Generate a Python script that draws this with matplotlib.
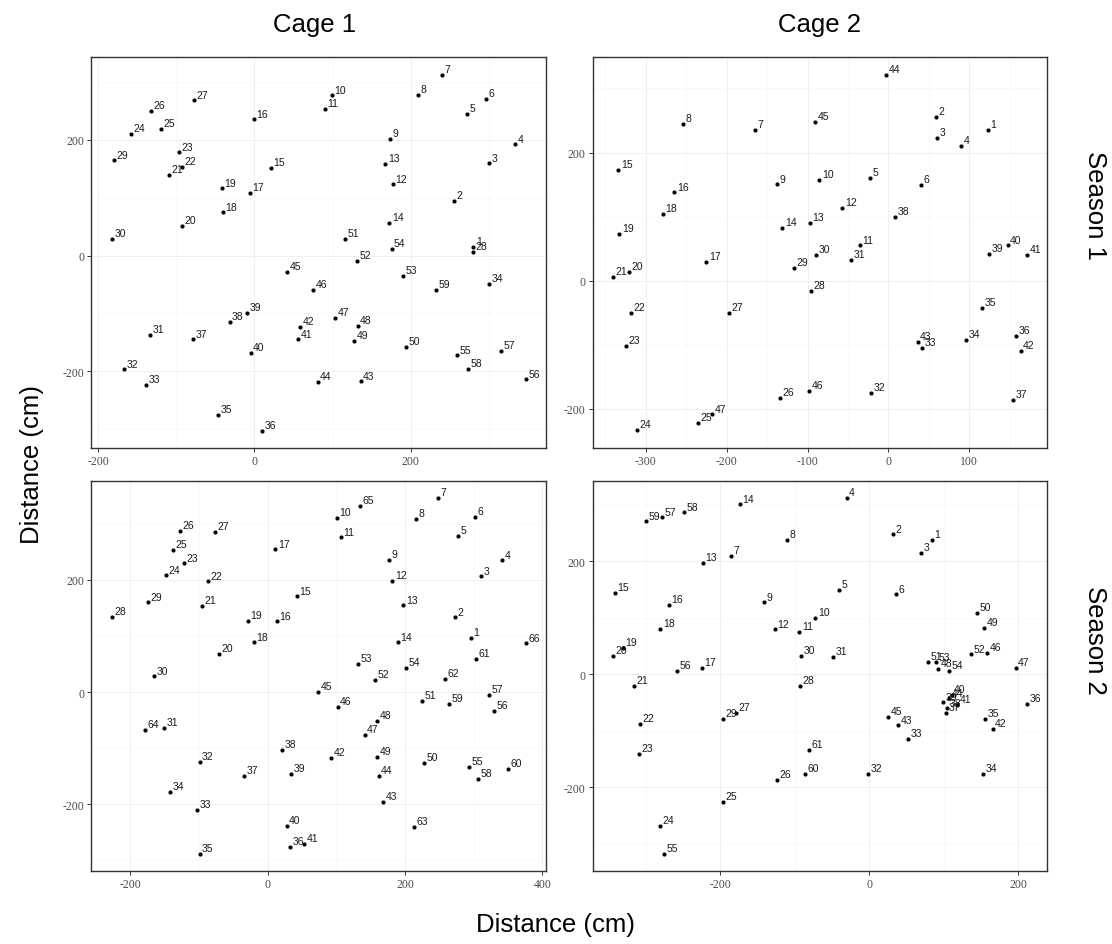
import matplotlib
matplotlib.use("Agg")
import matplotlib.pyplot as plt
from matplotlib.ticker import MultipleLocator

plt.rcParams["axes.unicode_minus"] = False

# ---------------- data ----------------
c1s1_x = [280.6, 256.3, 301, 333.9, 272.5, 296.4, 240.5, 209.8, 173.1, 98.9,
          90.4, 177, 167.6, 172.7, 20.9, -0.4, -6.4, -40.5, -42.2, -92.5,
          -109.6, -93.4, -97.2, -158.6, -119.4, -133, -77.6, 279.7, -180.4, -182.5,
          -134.3, -167.2, -139.4, 301, -46.5, 10.2, -78.5, -32, -9.8, -5.1,
          56.3, 58.8, 136, 81, 41.8, 75, 103.2, 132.2, 127.9, 194,
          115.6, 131, 191, 175.7, 259.3, 348.4, 315.6, 274.2, 232.8]
c1s1_y = [14.4, 95.2, 159.3, 192.2, 244.7, 271.3, 312.8, 278.2, 201.4, 277,
          254, 122.9, 158.2, 57.1, 151.8, 235.5, 108, 74.5, 116, 51.4,
          139.7, 154, 178.4, 210, 219, 250, 268.4, 6.3, 164.5, 28.3,
          -137.4, -196.8, -224, -48.5, -275.9, -303.6, -144.9, -114.3, -99.3, -168.5,
          -144.9, -123, -217.6, -218.8, -28.9, -59.5, -107.4, -121.2, -147.8, -157.6,
          28.3, -8.7, -34.6, 11.5, -172.6, -214.1, -165.1, -196.2, -58.9]

c2s1_x = [122.7, 59.2, 60.1, 89.7, -22.7, 39.9, -164.9, -254.3, -137.8, -85.4,
          -35.1, -57, -96.9, -131.1, -333.9, -264.6, -225.1, -278.6, -332.6, -321,
          -340.4, -318.5, -324.7, -311.1, -235.4, -134.2, -196.6, -96, -117.1, -89.9,
          -45.9, -21.5, 41.2, 95.9, 116.1, 158.1, 154, 7.8, 124, 147.5,
          171.3, 163.5, 36.2, -3, -90.7, -98.1, -217.7]
c2s1_y = [235.3, 255.6, 223.4, 210.9, 160, 149.1, 234.8, 244.7, 150.1, 156.9,
          55.1, 113.8, 90.4, 82.1, 173.5, 137.7, 29.6, 103.9, 73.2, 14,
          6.2, -49.9, -101.8, -233.2, -221.8, -183.4, -50.4, -16.6, 19.7, 40,
          32.7, -175.6, -104.4, -91.9, -42.1, -86.8, -186, 99.2, 41.6, 55.1,
          40, -109, -96.1, 321.6, 248.3, -171.9, -208.8]

c1s2_x = [295.5, 272.6, 311, 341.1, 277.5, 301.3, 247.4, 215.8, 177, 100.8,
          106.1, 181.4, 197.4, 189.6, 42.8, 13.1, 11.2, -20, -29.2, -70.6,
          -96.4, -87.6, -122.1, -148.4, -137.7, -128, -76.4, -227.3, -174.2, -165.5,
          -151.3, -99.3, -103.2, -142.1, -99.3, 32.1, -35, 20.4, 34.1, 27.3,
          52.6, 92, 168.2, 161.5, 73.1, 101.7, 141.1, 159, 159.5, 227,
          224.1, 155.6, 131.4, 201.8, 293.5, 329, 321.7, 306.6, 263.9, 349.8,
          302.8, 258.1, 213.4, -179.1, 134.3, 376.1]
c1s2_y = [96.1, 132.9, 205.9, 234.4, 277.7, 311.6, 346, 308, 235.6, 310.4,
          275.4, 197.6, 154.3, 88.4, 170.3, 125.8, 254, 88.4, 127, 67.1,
          153.7, 197, 229.1, 207.7, 253.4, 286.6, 284.9, 133.5, 159.6, 27.9,
          -63.5, -124, -210.7, -178, -287.8, -275.4, -150.1, -102.7, -145.4, -239.2,
          -270, -116.9, -195.8, -149.6, 0, -26.7, -76, -51.6, -115.1, -127,
          -15.4, 22, 49.3, 42.7, -132.9, -34.4, -5.9, -155.5, -20.8, -137.1,
          58.8, 22.6, -239.8, -68.2, 331.2, 86.6]

c2s2_x = [83.7, 32.2, 69.4, -30.4, -40.3, 36.2, -186.1, -110.9, -141.8, -72.5,
          -94, -127.2, -223.2, -173.6, -341.3, -269.3, -225, -280.5, -331, -344,
          -316.3, -307.4, -309.1, -281.4, -196.8, -123.5, -178.5, -93, -196.4, -91.7,
          -49.2, -1.7, 51.9, 153, 155.7, 211.3, 103, 103.9, 99.3, 110.6,
          118, 165.6, 38.9, 107.4, 25.1, 158.4, 196.5, 92.2, 154.4, 145,
          78.8, 136.5, 89.5, 106.6, -275.2, -257.7, -277.8, -248.7, -300.2, -86.3,
          -80.9]
c2s2_y = [237.8, 247.8, 214.7, 312.7, 149.3, 141.6, 210, 238.3, 127.4, 99.7,
          75.5, 79.6, 197, 300.9, 144.5, 122.7, 11.2, 80.2, 46.6, 33,
          -20.1, -88.5, -141.6, -267.8, -226.5, -187, -67.8, -20.6, -79.6, 33,
          31.3, -177, -114.5, -177, -79.6, -52.5, -68.4, -60.2, -49.6, -36,
          -54, -96.2, -90.3, -42.5, -76.1, 38.3, 11.8, 9.4, 82, 108,
          22.4, 35.4, 21.2, 6.5, -317.4, 6.5, 277.9, 286.7, 270.8, -177,
          -134.5]

col_titles = ["Cage 1", "Cage 2"]
row_titles = ["Season 1", "Season 2"]
axis_label = "Distance (cm)"

# ---------------- figure ----------------
W, H = 1112, 945
fig = plt.figure(figsize=(W / 100, H / 100), dpi=100)

def rect(x0, y0, x1, y1):
    return [x0 / W, 1 - y1 / H, (x1 - x0) / W, (y1 - y0) / H]

panels = [
    (rect(91, 58.3, 546, 448.8), c1s1_x, c1s1_y, (-209.6, 373.7), (-332.5, 342.9), 200),
    (rect(592.7, 58.3, 1047.3, 448.8), c2s1_x, c2s1_y, (-365.5, 196.4), (-260.8, 348.6), 100),
    (rect(91, 481.7, 546, 872.3), c1s2_x, c1s2_y, (-257.5, 405.2), (-319.3, 376.3), 200),
    (rect(592.7, 481.7, 1047.3, 872.3), c2s2_x, c2s2_y, (-371.3, 238.9), (-348.7, 342.8), 200),
]

sans = ["Liberation Sans", "DejaVu Sans"]
serif = ["Liberation Serif", "DejaVu Serif"]

for r, xs, ys, xl, yl, xstep in panels:
    ax = fig.add_axes(r)
    ax.set_xlim(*xl)
    ax.set_ylim(*yl)
    ax.xaxis.set_major_locator(MultipleLocator(xstep))
    ax.xaxis.set_minor_locator(MultipleLocator(xstep / 2))
    ax.yaxis.set_major_locator(MultipleLocator(200))
    ax.yaxis.set_minor_locator(MultipleLocator(100))
    ax.set_axisbelow(True)
    ax.grid(True, which="major", color="#ededed", lw=0.6)
    ax.grid(True, which="minor", color="#f6f6f6", lw=0.4)
    ax.tick_params(which="minor", length=0)
    ax.tick_params(which="major", length=3, width=0.7, color="#333333",
                   labelsize=8.5, labelcolor="#4d4d4d", pad=2)
    for s in ax.spines.values():
        s.set_color("#333333")
        s.set_linewidth(1.0)
    ax.scatter(xs, ys, s=9, color="black", zorder=3, linewidths=0)
    for i, (x, y) in enumerate(zip(xs, ys), start=1):
        ax.annotate(str(i), (x, y), xytext=(1.8, 0.6), textcoords="offset points",
                    ha="left", va="bottom", fontsize=7.5, family=sans, color="#1a1a1a",
                    zorder=4)
    for lab in ax.get_xticklabels() + ax.get_yticklabels():
        lab.set_family(serif)

fig.text(315 / W, 1 - 25 / H, col_titles[0], ha="center", va="center", fontsize=18.5, family=sans)
fig.text(820 / W, 1 - 25 / H, col_titles[1], ha="center", va="center", fontsize=18.5, family=sans)
fig.text(1095 / W, 1 - 205 / H, row_titles[0], ha="center", va="center", rotation=-90, fontsize=18.5, family=sans)
fig.text(1095 / W, 1 - 640 / H, row_titles[1], ha="center", va="center", rotation=-90, fontsize=18.5, family=sans)
fig.text(556 / W, 1 - 925 / H, axis_label, ha="center", va="center", fontsize=18.5, family=sans)
fig.text(32 / W, 1 - 465 / H, axis_label, ha="center", va="center", rotation=90, fontsize=18.5, family=sans)

fig.savefig("out.png", dpi=100)
